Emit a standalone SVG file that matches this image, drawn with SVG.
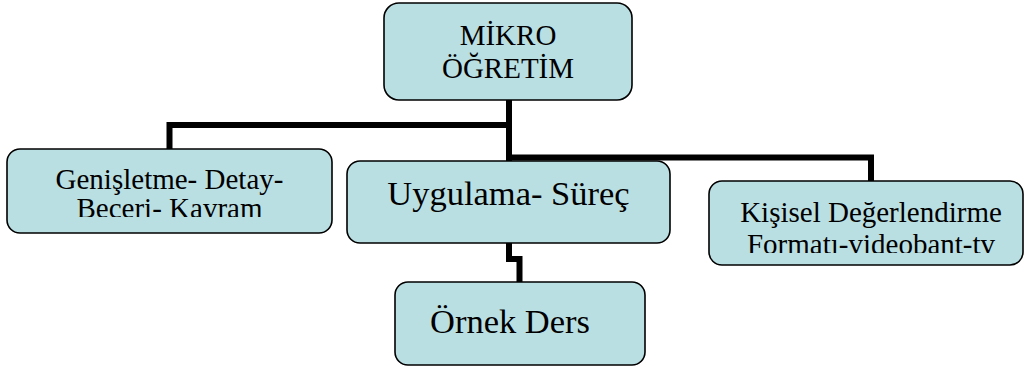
<svg xmlns="http://www.w3.org/2000/svg" width="1025" height="369" viewBox="0 0 1025 369">
<style>
.box{fill:#BADFE3;stroke:#000;stroke-width:1.6}
text{font-family:'Liberation Serif','Times New Roman','DejaVu Serif',serif;fill:#000}
.s29{font-size:29px}
.s34{font-size:34.5px}
.c{fill:none;stroke:#000;stroke-width:6;stroke-linejoin:miter}
</style>
<defs>
<clipPath id="clipL"><rect x="8" y="150" width="323" height="67"/></clipPath>
<clipPath id="clipR"><rect x="710" y="182" width="313" height="71"/></clipPath>
</defs>
<rect width="1025" height="369" fill="#fff"/>
<g id="connectors">
<path class="c" d="M509 100 V125 H169.5 V149"/>
<path class="c" d="M509 100 V157.5 H871 V181"/>
<path class="c" d="M509 157 V161"/>
<path class="c" d="M509 243 V259 H519.5 V282"/>
</g>
<g id="node-mikro">
<rect class="box" x="384" y="3" width="248" height="97" rx="15"/>
<text class="s29" x="508" y="45" text-anchor="middle">MİKRO</text>
<text class="s29" x="508" y="78" text-anchor="middle">ÖĞRETİM</text>
</g>
<g id="node-genisletme">
<rect class="box" x="7" y="149" width="325" height="84" rx="13"/>
<g clip-path="url(#clipL)">
<text class="s29" x="169.5" y="189" text-anchor="middle">Genişletme- Detay-</text>
<text class="s29" x="169.5" y="218" text-anchor="middle">Beceri- Kavram</text>
</g>
</g>
<g id="node-uygulama">
<rect class="box" x="347" y="161" width="323" height="82" rx="13"/>
<text class="s34" x="508.5" y="205" text-anchor="middle">Uygulama- Süreç</text>
</g>
<g id="node-kisisel">
<rect class="box" x="709" y="181" width="314" height="84" rx="13"/>
<g clip-path="url(#clipR)">
<text class="s29" x="871" y="222" text-anchor="middle">Kişisel Değerlendirme</text>
<text class="s29" x="871" y="254" text-anchor="middle">Formatı-videobant-tv</text>
</g>
</g>
<g id="node-ornek">
<rect class="box" x="395" y="282" width="250" height="83" rx="13"/>
<text class="s34" x="430" y="333">Örnek Ders</text>
</g>
</svg>
